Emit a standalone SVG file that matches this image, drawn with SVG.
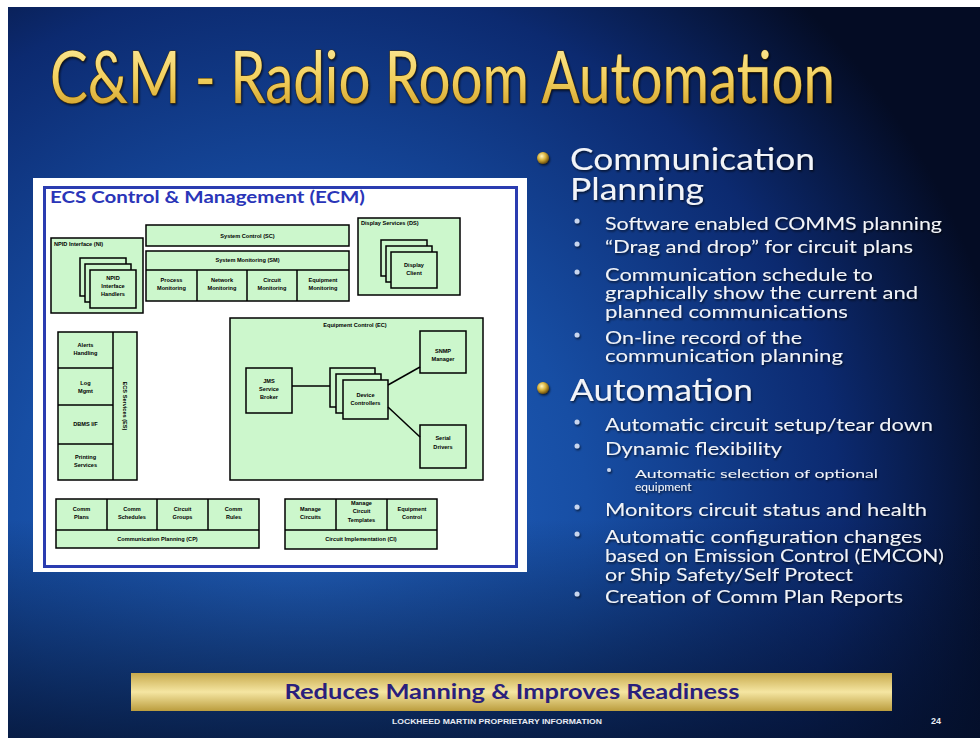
<svg xmlns="http://www.w3.org/2000/svg" width="980" height="738" viewBox="0 0 980 738">
<defs>
<radialGradient id="bg" cx="300" cy="520" r="720" gradientUnits="userSpaceOnUse">
<stop offset="0" stop-color="#2466c6"/>
<stop offset="0.4" stop-color="#174ea4"/>
<stop offset="0.75" stop-color="#0c2a70"/>
<stop offset="1" stop-color="#040c24"/>
</radialGradient>
<linearGradient id="bgb" x1="0" y1="0" x2="0" y2="1">
<stop offset="0.7" stop-color="#04102c" stop-opacity="0"/>
<stop offset="1" stop-color="#04102c" stop-opacity="0.75"/>
</linearGradient>
<linearGradient id="ttl" x1="0" y1="0" x2="0" y2="1">
<stop offset="0" stop-color="#fff0a8"/>
<stop offset="0.55" stop-color="#f2cf5c"/>
<stop offset="1" stop-color="#c9951e"/>
</linearGradient>
<linearGradient id="bar" x1="0" y1="0" x2="0" y2="1">
<stop offset="0" stop-color="#c7a94c"/>
<stop offset="0.5" stop-color="#f5e6a2"/>
<stop offset="1" stop-color="#bb9d3e"/>
</linearGradient>
<radialGradient id="ball" cx="0.4" cy="0.35" r="0.65">
<stop offset="0" stop-color="#fff6c0"/>
<stop offset="0.5" stop-color="#d8b23c"/>
<stop offset="1" stop-color="#6a4e0c"/>
</radialGradient>
<filter id="sh" x="-5%" y="-20%" width="110%" height="140%">
<feDropShadow dx="1" dy="1.5" stdDeviation="1" flood-color="#000" flood-opacity="0.7"/>
</filter>
</defs>
<style>
.t{font-family:Lato,"Open Sans","Liberation Sans",sans-serif;fill:#f2f4f8}
.h{font-size:30px}
.s{font-size:17px}
.ss{font-size:12px}
.g{fill:#ccf7cc;stroke:#000;stroke-width:1.5}
.ln{stroke:#000;stroke-width:1.5;fill:none}
.d{font-family:"Liberation Sans",Arial,sans-serif;font-weight:bold;font-size:5.6px;fill:#000;text-anchor:middle}
.dl{font-family:"Liberation Sans",Arial,sans-serif;font-weight:bold;font-size:5.6px;fill:#000}
.sb{fill:#c9d6ee}
</style>
<rect width="980" height="738" fill="#ffffff"/>
<rect x="8" y="7" width="972" height="731" fill="url(#bg)"/>
<rect x="8" y="7" width="972" height="731" fill="url(#bgb)"/>

<text x="50" y="103" font-family="Lato,'Open Sans',sans-serif" font-size="72" fill="url(#ttl)" stroke="#4a3300" stroke-width="1" paint-order="stroke" textLength="785" lengthAdjust="spacingAndGlyphs" filter="url(#sh)">C&amp;M - Radio Room Automation</text>

<g id="ecm-panel">
<rect x="33" y="178" width="494" height="394" fill="#ffffff"/>
<rect x="44.5" y="187.5" width="472" height="379" fill="#ffffff" stroke="#2a3cb0" stroke-width="3"/>
<text x="50" y="203" font-family="Lato,'Open Sans',sans-serif" font-weight="bold" font-size="17" fill="#2a35b8" textLength="315" lengthAdjust="spacingAndGlyphs">ECS Control &amp; Management (ECM)</text>
</g>

<g id="ni">
<rect class="g" x="51" y="238" width="92" height="75"/>
<text class="dl" x="54" y="246">NPID Interface (NI)</text>
<rect class="g" x="80" y="258" width="46" height="38"/>
<rect class="g" x="85" y="264" width="46" height="38"/>
<rect class="g" x="90" y="270" width="46" height="38"/>
<text class="d" x="113" y="280">NPID</text>
<text class="d" x="113" y="288">Interface</text>
<text class="d" x="113" y="296">Handlers</text>
</g>

<g id="sc">
<rect class="g" x="146" y="225" width="203" height="21"/>
<text class="d" x="247.5" y="238">System Control (SC)</text>
</g>

<g id="sm">
<rect class="g" x="146" y="251" width="203" height="50"/>
<line class="ln" x1="146" y1="270" x2="349" y2="270"/>
<line class="ln" x1="197" y1="270" x2="197" y2="301"/>
<line class="ln" x1="247" y1="270" x2="247" y2="301"/>
<line class="ln" x1="297" y1="270" x2="297" y2="301"/>
<text class="d" x="247.5" y="262">System Monitoring (SM)</text>
<text class="d" x="171.5" y="282">Process</text>
<text class="d" x="171.5" y="290">Monitoring</text>
<text class="d" x="222" y="282">Network</text>
<text class="d" x="222" y="290">Monitoring</text>
<text class="d" x="272" y="282">Circuit</text>
<text class="d" x="272" y="290">Monitoring</text>
<text class="d" x="323" y="282">Equipment</text>
<text class="d" x="323" y="290">Monitoring</text>
</g>

<g id="ds">
<rect class="g" x="358" y="218" width="102" height="77"/>
<text class="dl" x="361" y="225">Display Services (DS)</text>
<rect class="g" x="381" y="240" width="46" height="36"/>
<rect class="g" x="386" y="246" width="46" height="36"/>
<rect class="g" x="391" y="252" width="46" height="36"/>
<text class="d" x="414" y="267">Display</text>
<text class="d" x="414" y="275">Client</text>
</g>

<g id="es">
<rect class="g" x="58" y="332" width="79" height="148"/>
<line class="ln" x1="113" y1="332" x2="113" y2="480"/>
<line class="ln" x1="58" y1="368" x2="113" y2="368"/>
<line class="ln" x1="58" y1="405" x2="113" y2="405"/>
<line class="ln" x1="58" y1="444" x2="113" y2="444"/>
<text class="d" x="85.5" y="347">Alerts</text>
<text class="d" x="85.5" y="355">Handling</text>
<text class="d" x="85.5" y="385">Log</text>
<text class="d" x="85.5" y="393">Mgmt</text>
<text class="d" x="85.5" y="426">DBMS I/F</text>
<text class="d" x="85.5" y="459">Printing</text>
<text class="d" x="85.5" y="467">Services</text>
<text class="d" transform="translate(123,406) rotate(90)">ECS Services (ES)</text>
</g>

<g id="ec">
<rect class="g" x="230" y="318" width="253" height="162"/>
<text class="d" x="355" y="327">Equipment Control (EC)</text>
</g>

<g id="jms">
<rect class="g" x="246" y="368" width="46" height="45"/>
<text class="d" x="269" y="383">JMS</text>
<text class="d" x="269" y="391">Service</text>
<text class="d" x="269" y="399">Broker</text>
</g>

<g id="device-controllers">
<rect class="g" x="330" y="368" width="45" height="39"/>
<rect class="g" x="336" y="374" width="45" height="39"/>
<rect class="g" x="343" y="380" width="45" height="39"/>
<text class="d" x="365.5" y="397">Device</text>
<text class="d" x="365.5" y="405">Controllers</text>
</g>

<g id="snmp">
<rect class="g" x="420" y="331" width="46" height="42"/>
<text class="d" x="443" y="353">SNMP</text>
<text class="d" x="443" y="361">Manager</text>
</g>

<g id="serial">
<rect class="g" x="420" y="425" width="46" height="43"/>
<text class="d" x="443" y="440">Serial</text>
<text class="d" x="443" y="449">Drivers</text>
</g>

<g id="cp">
<rect class="g" x="56" y="499" width="203" height="49"/>
<line class="ln" x1="56" y1="530" x2="259" y2="530"/>
<line class="ln" x1="107" y1="499" x2="107" y2="530"/>
<line class="ln" x1="157" y1="499" x2="157" y2="530"/>
<line class="ln" x1="208" y1="499" x2="208" y2="530"/>
<text class="d" x="81.5" y="511">Comm</text>
<text class="d" x="81.5" y="519">Plans</text>
<text class="d" x="132" y="511">Comm</text>
<text class="d" x="132" y="519">Schedules</text>
<text class="d" x="182.5" y="511">Circuit</text>
<text class="d" x="182.5" y="519">Groups</text>
<text class="d" x="233.5" y="511">Comm</text>
<text class="d" x="233.5" y="519">Rules</text>
<text class="d" x="157.5" y="541">Communication Planning (CP)</text>
</g>

<g id="ci">
<rect class="g" x="285" y="499" width="152" height="50"/>
<line class="ln" x1="285" y1="530" x2="437" y2="530"/>
<line class="ln" x1="336" y1="499" x2="336" y2="530"/>
<line class="ln" x1="387" y1="499" x2="387" y2="530"/>
<text class="d" x="310.5" y="511">Manage</text>
<text class="d" x="310.5" y="519">Circuits</text>
<text class="d" x="361.5" y="505">Manage</text>
<text class="d" x="361.5" y="513">Circuit</text>
<text class="d" x="361.5" y="522">Templates</text>
<text class="d" x="412" y="511">Equipment</text>
<text class="d" x="412" y="519">Control</text>
<text class="d" x="361" y="541">Circuit Implementation (CI)</text>
</g>

<g id="connectors">
<line class="ln" x1="292" y1="386" x2="330" y2="386"/>
<line class="ln" x1="388" y1="385" x2="420" y2="367"/>
<line class="ln" x1="388" y1="407" x2="420" y2="437"/>
</g>

<g id="bullets" filter="url(#sh)">
<circle cx="543" cy="158" r="6" fill="url(#ball)"/>
<text class="t h" x="570" y="170" textLength="245" lengthAdjust="spacingAndGlyphs">Communication</text>
<text class="t h" x="570" y="200" textLength="134" lengthAdjust="spacingAndGlyphs">Planning</text>
<circle class="sb" cx="577" cy="221" r="2.5"/>
<text class="t s" x="605" y="230" textLength="337" lengthAdjust="spacingAndGlyphs">Software enabled COMMS planning</text>
<circle class="sb" cx="577" cy="244" r="2.5"/>
<text class="t s" x="605" y="253" textLength="308" lengthAdjust="spacingAndGlyphs">“Drag and drop” for circuit plans</text>
<circle class="sb" cx="577" cy="272" r="2.5"/>
<text class="t s" x="605" y="281" textLength="268" lengthAdjust="spacingAndGlyphs">Communication schedule to</text>
<text class="t s" x="605" y="299" textLength="313" lengthAdjust="spacingAndGlyphs">graphically show the current and</text>
<text class="t s" x="605" y="318" textLength="243" lengthAdjust="spacingAndGlyphs">planned communications</text>
<circle class="sb" cx="577" cy="335" r="2.5"/>
<text class="t s" x="605" y="344" textLength="197" lengthAdjust="spacingAndGlyphs">On-line record of the</text>
<text class="t s" x="605" y="362" textLength="238" lengthAdjust="spacingAndGlyphs">communication planning</text>

<circle cx="543" cy="388" r="6" fill="url(#ball)"/>
<text class="t h" x="570" y="401" textLength="183" lengthAdjust="spacingAndGlyphs">Automation</text>
<circle class="sb" cx="577" cy="422" r="2.5"/>
<text class="t s" x="605" y="431" textLength="328" lengthAdjust="spacingAndGlyphs">Automatic circuit setup/tear down</text>
<circle class="sb" cx="577" cy="446" r="2.5"/>
<text class="t s" x="605" y="455" textLength="177" lengthAdjust="spacingAndGlyphs">Dynamic flexibility</text>
<circle class="sb" cx="609" cy="470" r="2"/>
<text class="t ss" x="635" y="478" textLength="243" lengthAdjust="spacingAndGlyphs">Automatic selection  of optional</text>
<text class="t ss" x="635" y="491">equipment</text>
<circle class="sb" cx="577" cy="507" r="2.5"/>
<text class="t s" x="605" y="516" textLength="322" lengthAdjust="spacingAndGlyphs">Monitors circuit status and health</text>
<circle class="sb" cx="577" cy="534" r="2.5"/>
<text class="t s" x="605" y="543" textLength="317" lengthAdjust="spacingAndGlyphs">Automatic configuration changes</text>
<text class="t s" x="605" y="562" textLength="339" lengthAdjust="spacingAndGlyphs">based on Emission Control (EMCON)</text>
<text class="t s" x="605" y="581" textLength="248" lengthAdjust="spacingAndGlyphs">or Ship Safety/Self Protect</text>
<circle class="sb" cx="577" cy="594" r="2.5"/>
<text class="t s" x="605" y="603" textLength="298" lengthAdjust="spacingAndGlyphs">Creation of Comm Plan Reports</text>
</g>

<g id="banner">
<rect x="131" y="673" width="761" height="38" fill="url(#bar)"/>
<text x="512" y="699" text-anchor="middle" font-family="Lato,'Open Sans',sans-serif" font-weight="bold" font-size="21" fill="#2a1f7c" textLength="455" lengthAdjust="spacingAndGlyphs">Reduces Manning &amp; Improves Readiness</text>
</g>

<g id="footer">
<text x="497" y="724" text-anchor="middle" font-family="'Liberation Sans',Arial,sans-serif" font-weight="bold" font-size="6.5" fill="#e8ecf4" textLength="210" lengthAdjust="spacingAndGlyphs">LOCKHEED MARTIN PROPRIETARY INFORMATION</text>
<text x="936" y="724" text-anchor="middle" font-family="'Liberation Sans',Arial,sans-serif" font-weight="bold" font-size="9" fill="#e8ecf4">24</text>
</g>
</svg>
